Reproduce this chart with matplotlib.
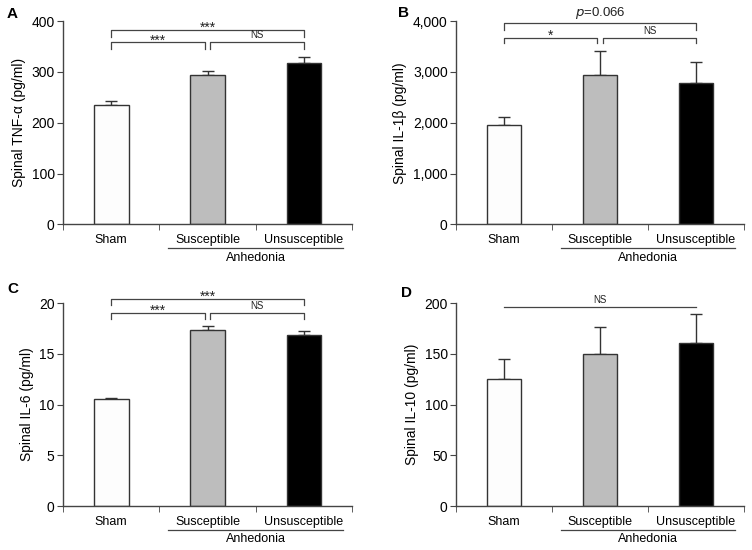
import matplotlib
matplotlib.use('Agg')
import matplotlib.pyplot as plt
from matplotlib.ticker import FuncFormatter
import matplotlib.transforms as mtransforms


# Group names on the x axis
groups = ['Sham', 'Susceptible', 'Unsusceptible']

# Mean and error values
tnf_mean = [235, 294, 318]
tnf_err = [8, 7, 11]

il1b_mean = [1950, 2930, 2775]
il1b_err = [160, 480, 420]

il6_mean = [10.55, 17.3, 16.85]
il6_err = [0.12, 0.45, 0.4]

il10_mean = [125, 150, 161]
il10_err = [20, 26, 28]

plt.rcParams['font.family'] = ['Liberation Sans', 'DejaVu Sans']

AXIS_COLOR = '#444444'
BAR_COLORS = ['#fdfdfd', '#bdbdbd', '#000000']


def bracket(ax, x1, x2, y, leg, text, size=7, dy=1.5):
    # Horizontal line with short legs pointing down, label on top
    if leg is None:
        ax.plot([x1, x2], [y, y], color=AXIS_COLOR, lw=0.9, clip_on=False)
    else:
        ax.plot([x1, x1, x2, x2], [leg, y, y, leg], color=AXIS_COLOR,
                lw=0.9, clip_on=False)
    if '*' in text:
        # asterisks sit high in the glyph box, so pull them down
        size, dy = 10, -3.5
    ax.annotate(text, xy=((x1 + x2) / 2, y), xytext=(0, dy),
                textcoords='offset points', ha='center', va='bottom',
                fontsize=size, color='#222222', annotation_clip=False)


def draw_panel(ax, means, errs, ymax, step, ylabel, comma=False):
    x = range(len(groups))
    ax.bar(x, means, width=0.36, color=BAR_COLORS, edgecolor='#333333',
           linewidth=1.0, zorder=2)
    ax.errorbar(x, means, yerr=[[0] * len(errs), errs], fmt='none',
                ecolor='#333333', elinewidth=1.0, capsize=4, capthick=1.0,
                zorder=1)

    ax.set_xlim(-0.5, 2.5)
    ax.set_ylim(0, ymax)
    ax.set_yticks([step * i for i in range(int(ymax / step) + 1)])
    if comma:
        ax.yaxis.set_major_formatter(FuncFormatter(lambda v, p: '{:,.0f}'.format(v)))

    ax.set_xticks(list(x))
    ax.set_xticklabels(groups)
    ax.set_xticks([-0.5, 0.5, 1.5, 2.5], minor=True)
    ax.tick_params(axis='x', which='major', length=0, pad=7, labelsize=9)
    ax.tick_params(axis='x', which='minor', length=4, color=AXIS_COLOR)
    ax.tick_params(axis='y', length=4, color=AXIS_COLOR, labelsize=10, pad=2)

    for side in ['top', 'right']:
        ax.spines[side].set_visible(False)
    for side in ['left', 'bottom']:
        ax.spines[side].set_color(AXIS_COLOR)
        ax.spines[side].set_linewidth(1.0)

    ax.set_ylabel(ylabel, fontsize=10, labelpad=4)

    # Anhedonia group line under the two right labels
    trans = mtransforms.blended_transform_factory(ax.transData, ax.transAxes)
    ax.plot([0.59, 2.41], [-0.118, -0.118], color=AXIS_COLOR, lw=0.9,
            transform=trans, clip_on=False)
    ax.text(1.5, -0.165, 'Anhedonia', transform=trans, ha='center',
            va='center', fontsize=9)


fig = plt.figure(figsize=(7.52, 5.5), dpi=100)

ax_a = fig.add_axes([0.0838, 0.592, 0.3843, 0.3696])
ax_b = fig.add_axes([0.6064, 0.592, 0.383, 0.3696])
ax_c = fig.add_axes([0.0838, 0.08, 0.3843, 0.369])
ax_d = fig.add_axes([0.6064, 0.08, 0.383, 0.369])

draw_panel(ax_a, tnf_mean, tnf_err, 400, 100, 'Spinal TNF-\u03b1 (pg/ml)')
bracket(ax_a, 0, 2, 383, 369, '***')
bracket(ax_a, 0, 0.97, 358, 345, '***')
bracket(ax_a, 1.03, 2, 358, 345, 'NS')

draw_panel(ax_b, il1b_mean, il1b_err, 4000, 1000, 'Spinal IL-1\u03b2 (pg/ml)',
           comma=True)
bracket(ax_b, 0, 2, 3965, 3834, '$\\it{p}$=0.066', size=9.5)
bracket(ax_b, 0, 0.97, 3676, 3570, '*')
bracket(ax_b, 1.03, 2, 3676, 3570, 'NS')

draw_panel(ax_c, il6_mean, il6_err, 20, 5, 'Spinal IL-6 (pg/ml)')
bracket(ax_c, 0, 2, 20.4, 19.8, '***')
bracket(ax_c, 0, 0.97, 19.05, 18.45, '***')
bracket(ax_c, 1.03, 2, 19.05, 18.45, 'NS')

draw_panel(ax_d, il10_mean, il10_err, 200, 50, 'Spinal IL-10 (pg/ml)')
bracket(ax_d, 0, 2, 196, None, 'NS')

# Panel letters, placed in figure pixels
for letter, px, py in [('A', 7, 14), ('B', 398, 13), ('C', 7, 289), ('D', 401, 293)]:
    fig.text(px / 752, 1 - py / 550, letter, fontsize=11, fontweight='bold',
             ha='left', va='center')

fig.savefig('out.png', dpi=100)
